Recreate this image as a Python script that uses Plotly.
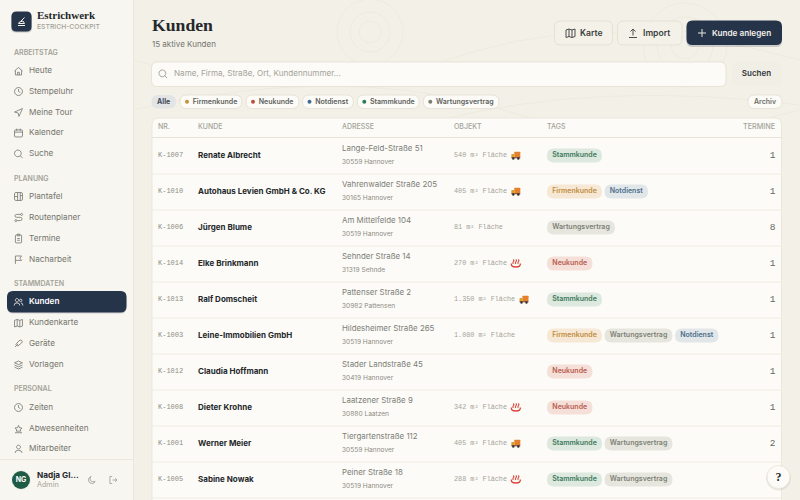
import re
import plotly.graph_objects as go

# Tabelle
nummern = ["K-1007", "K-1010", "K-1006", "K-1014", "K-1013", "K-1003", "K-1012", "K-1008", "K-1001", "K-1005"]
kunden = ["Renate Albrecht", "Autohaus Levien GmbH & Co. KG", "Jürgen Blume", "Elke Brinkmann", "Ralf Domscheit",
          "Leine-Immobilien GmbH", "Claudia Hoffmann", "Dieter Krohne", "Werner Meier", "Sabine Nowak"]
strassen = ["Lange-Feld-Straße 51", "Vahrenwalder Straße 205", "Am Mittelfelde 104", "Sehnder Straße 14",
            "Pattenser Straße 2", "Hildesheimer Straße 265", "Stader Landstraße 45", "Laatzener Straße 9",
            "Tiergartenstraße 112", "Peiner Straße 18"]
orte = ["30559 Hannover", "30165 Hannover", "30519 Hannover", "31319 Sehnde", "30982 Pattensen",
        "30519 Hannover", "30419 Hannover", "30880 Laatzen", "30559 Hannover", "30519 Hannover"]
objekte = ["540 m² Fläche", "405 m² Fläche", "81 m² Fläche", "270 m² Fläche", "1.350 m² Fläche",
           "1.080 m² Fläche", "", "342 m² Fläche", "405 m² Fläche", "288 m² Fläche"]
objekt_art = ["truck", "truck", "", "hot", "truck", "", "", "hot", "truck", "hot"]
tags = [["Stammkunde"], ["Firmenkunde", "Notdienst"], ["Wartungsvertrag"], ["Neukunde"], ["Stammkunde"],
        ["Firmenkunde", "Wartungsvertrag", "Notdienst"], ["Neukunde"], ["Neukunde"],
        ["Stammkunde", "Wartungsvertrag"], ["Stammkunde", "Wartungsvertrag"]]
termine = ["1", "1", "8", "1", "1", "1", "1", "1", "2", ""]
spalten = ["NR.", "KUNDE", "ADRESSE", "OBJEKT", "TAGS"]

# Navigation
nav_gruppen = ["ARBEITSTAG", "PLANUNG", "STAMMDATEN", "PERSONAL"]
nav_texte = ["Heute", "Stempeluhr", "Meine Tour", "Kalender", "Suche", "Plantafel", "Routenplaner", "Termine",
             "Nacharbeit", "Kunden", "Kundenkarte", "Geräte", "Vorlagen", "Zeiten", "Abwesenheiten", "Mitarbeiter"]
filter_texte = ["Firmenkunde", "Neukunde", "Notdienst", "Stammkunde", "Wartungsvertrag"]

SANS = "Inter"
SERIF = "Liberation Serif"
MONO = "Liberation Mono"
DARK = "#26344a"
INK = "#24282b"
GREY = "#74756e"
LIGHT = "#a3a399"
LINE = "#ebe7dc"
CARD = "#fcfbf7"

TAG_STIL = {
    "Stammkunde": ("#dde8df", "#3c7a5c", 55),
    "Firmenkunde": ("#f6e8d4", "#c18c42", 55),
    "Notdienst": ("#e1e6e8", "#4d6e8c", 43.5),
    "Wartungsvertrag": ("#e6e6df", "#7c8175", 68),
    "Neukunde": ("#f5dfd9", "#b65c4e", 45.5),
}
DOT = {"Firmenkunde": "#c8923c", "Neukunde": "#b8503f", "Notdienst": "#3f6c96",
       "Stammkunde": "#2f7a57", "Wartungsvertrag": "#7a8072"}

shapes = []
fig = go.Figure()


def rr(x0, y0, x1, y1, r):
    return (f"M{x0+r} {y0} L{x1-r} {y0} Q{x1} {y0} {x1} {y0+r} L{x1} {y1-r} Q{x1} {y1} {x1-r} {y1} "
            f"L{x0+r} {y1} Q{x0} {y1} {x0} {y1-r} L{x0} {y0+r} Q{x0} {y0} {x0+r} {y0} Z")


def box(x0, y0, x1, y1, r, fill, line=None, lw=1):
    shapes.append(dict(type="path", path=rr(x0, y0, x1, y1, r), fillcolor=fill, layer="below",
                       line=dict(color=line or "rgba(0,0,0,0)", width=lw if line else 0)))


def ring(cx, cy, r, fill="rgba(0,0,0,0)", line=None, lw=1):
    shapes.append(dict(type="circle", x0=cx-r, x1=cx+r, y0=cy-r, y1=cy+r, fillcolor=fill, layer="below",
                       line=dict(color=line or "rgba(0,0,0,0)", width=lw if line else 0)))


def hline(x0, x1, y, color=LINE):
    shapes.append(dict(type="line", x0=x0, x1=x1, y0=y, y1=y, layer="below", line=dict(color=color, width=1)))


def text(xs, ys, labels, size, color, weight=400, family=SANS, pos="middle right"):
    # leicht nach unten, die Mitte von plotly sitzt etwas zu hoch
    fig.add_trace(go.Scatter(x=xs, y=[y + 0.5 for y in ys], text=labels, mode="text", textposition=pos,
                             cliponaxis=False,
                             textfont=dict(size=size, color=color, weight=weight, family=family),
                             hoverinfo="skip", showlegend=False))


def kreis(cx, cy, r):
    k = r * 0.55
    return (f"M{cx+r} {cy} C{cx+r} {cy+k} {cx+k} {cy+r} {cx} {cy+r} C{cx-k} {cy+r} {cx-r} {cy+k} {cx-r} {cy} "
            f"C{cx-r} {cy-k} {cx-k} {cy-r} {cx} {cy-r} C{cx+k} {cy-r} {cx+r} {cy-k} {cx+r} {cy} Z ")


ICONS = {
    "home": "M1.5 6 L6 2 L10.5 6 M2.5 5.3 L2.5 10.5 L9.5 10.5 L9.5 5.3 M5 10.5 L5 7.5 L7 7.5 L7 10.5",
    "clock": kreis(6, 6, 4.5) + "M6 3.2 L6 6 L8 7.2",
    "send": "M10.5 1.5 L1.5 5.5 L5.5 6.5 L6.5 10.5 Z",
    "cal": rr(1.5, 2.5, 10.5, 10.5, 1) + " M1.5 5 L10.5 5 M4 1 L4 3.5 M8 1 L8 3.5",
    "search": kreis(5.3, 5.3, 3.8) + "M8 8 L10.5 10.5",
    "board": rr(1.5, 1.5, 10.5, 10.5, 1.5) + " M5 1.5 L5 10.5 M8 1.5 L8 10.5 M1.5 6 L5 6 M8 5 L10.5 5",
    "route": kreis(3, 9.5, 1.2) + kreis(9.5, 2.5, 1.2) + "M4.5 9.5 L8 9.5 Q10 9.5 10 7.5 Q10 5.8 8 5.8 L4 5.8 Q2 5.8 2 4 Q2 2.5 4 2.5 L8 2.5",
    "clip": rr(2.5, 2, 9.5, 11, 1) + " " + rr(4.5, 1, 7.5, 3, 0.5) + " M4.5 6 L7.5 6 M4.5 8 L7.5 8",
    "flag": "M2.5 11 L2.5 2 L9.5 2 L7.5 4.5 L9.5 7 L2.5 7",
    "users": kreis(4.3, 4, 1.9) + "M1 10 Q1 7 4.3 7 Q7.5 7 7.5 10 " + kreis(8.5, 4.2, 1.4) + "M8.8 7 Q11 7.2 11 10",
    "map": "M1.5 3 L4.5 2 L7.5 3 L10.5 2 L10.5 9.5 L7.5 10.5 L4.5 9.5 L1.5 10.5 Z M4.5 2 L4.5 9.5 M7.5 3 L7.5 10.5",
    "tool": "M2 10 L5.5 6.5 M3 7 L5 9 L9.5 5.5 Q11 4 9.5 2.5 Q8 1.5 6.5 3 Z",
    "layers": "M6 1.5 L10.5 3.5 L6 5.5 L1.5 3.5 Z M1.5 6 L6 8 L10.5 6 M1.5 8.5 L6 10.5 L10.5 8.5",
    "star": "M2 10.8 L10 10.8 M6 2.5 L7.2 5.2 L10 5.5 L8 7.5 L8.5 9 L3.5 9 L4 7.5 L2 5.5 L4.8 5.2 Z",
    "user": kreis(6, 3.8, 2.2) + "M2 10.5 Q2 7.5 6 7.5 Q10 7.5 10 10.5",
    "moon": "M9.5 7.5 Q6 9 4 6.5 Q3 4 5 2 Q1.5 3 2 7 Q3 10.5 7 10 Q9 9.5 9.5 7.5 Z",
    "exit": "M5 2 L2.5 2 L2.5 10 L5 10 M5.5 6 L10.5 6 M8.5 4 L10.5 6 L8.5 8",
    "upload": "M2 10.5 L10 10.5 M6 8.5 L6 2 M3.5 4.5 L6 2 L8.5 4.5",
    "plus": "M6 2 L6 10 M2 6 L10 6",
    "logo": "M2.5 10 L9.5 10 M3 8 L9 8 L7.5 5.5 L4 6.5 Z M5 6 L9 2",
}


def icon(name, cx, cy, color=GREY, s=0.88, lw=0.8, fill="rgba(0,0,0,0)"):
    teile = re.findall(r"[MLQCZ]|-?\d+\.?\d*", ICONS[name])
    out, achse = [], 0
    for t in teile:
        if t.isalpha():
            out.append(t)
            achse = 0
        else:
            v = float(t) - 6
            out.append(f"{(cx if achse == 0 else cy) + v * s:.2f}")
            achse = 1 - achse
    shapes.append(dict(type="path", path=" ".join(out), fillcolor=fill, layer="below",
                       line=dict(color=color, width=lw)))


# Hintergrund
box(0, 0, 800, 500, 0, "#f3f0e8")
for cx, cy, radien in [(370, 32, (11, 20, 33)), (685, 45, (14, 28, 42))]:
    for r in radien:
        ring(cx, cy, r, line="#ece8dc", lw=0.8)
for p in ["M133 60 Q300 110 480 50 Q620 10 800 60", "M133 110 Q350 60 520 115 Q660 150 800 110",
          "M440 120 Q600 80 800 105"]:
    shapes.append(dict(type="path", path=p, layer="below", line=dict(color="#ece8dc", width=0.8)))

# Sidebar
box(0, 0, 133, 500, 0, "#f8f6f0")
shapes.append(dict(type="line", x0=133.5, x1=133.5, y0=0, y1=500, layer="below", line=dict(color=LINE, width=1)))
box(11, 12.5, 32, 32.5, 5, "rgba(38,52,74,0.25)")
box(11.5, 11.5, 31.5, 31.5, 5, DARK)
icon("logo", 21.5, 21.5, "#f3f0e8", s=1.0, lw=1)
text([37], [16], ["Estrichwerk"], 11, INK, 700, SERIF)
text([37], [26.5], ["ESTRICH-COCKPIT"], 6.8, LIGHT, 500)

text([14] * 4, [52.5, 178.5, 284, 389], nav_gruppen, 7, LIGHT, 600)
nav_y = [70.5, 91, 112, 132.5, 153.5, 196, 217, 238, 259, 301.5, 322.5, 343, 364.5, 407, 428, 448.5]
nav_icons = ["home", "clock", "send", "cal", "search", "board", "route", "clip", "flag", "users", "map", "tool",
             "layers", "clock", "star", "user"]
box(7, 291, 126.5, 313.5, 6, "rgba(38,52,74,0.18)")
box(7, 291, 126.5, 312.5, 6, DARK)
for y, ic, name in zip(nav_y, nav_icons, nav_texte):
    icon(ic, 18.5, y + 0.5, "#f3f0e8" if name == "Kunden" else GREY)
inaktiv = [i for i, n in enumerate(nav_texte) if n != "Kunden"]
text([29] * len(inaktiv), [nav_y[i] for i in inaktiv], [nav_texte[i] for i in inaktiv], 8.2, GREY)
text([29], [nav_y[nav_texte.index("Kunden")]], ["Kunden"], 8.2, "#ffffff", 600)

hline(0, 133, 459.5)
ring(21, 480, 10, fill="#eef0e8")
ring(21, 480, 9, fill="#1f5c46")
text([21], [480], ["NG"], 7, "#ffffff", 700, pos="middle center")
text([37], [475.5], ["Nadja Gl..."], 8.2, INK, 700)
text([37], [485], ["Admin"], 7.2, LIGHT)
icon("moon", 92, 480, "#9b9b92")
icon("exit", 113, 480, "#9b9b92")

# Kopf
text([152], [26], ["Kunden"], 17.7, INK, 700, SERIF)
text([152], [44], ["15 aktive Kunden"], 8, GREY)
box(554.5, 21, 612.5, 45, 6, "#f4f1e9", "#e6e1d3")
box(617.5, 21, 682, 45, 6, "#f4f1e9", "#e6e1d3")
box(686.5, 22, 782, 47, 6, "rgba(38,52,74,0.2)")
box(686.5, 20.5, 782, 45, 6, DARK)
icon("map", 570.5, 33, "#4a4d4c", s=1.0, lw=1)
icon("upload", 633, 33, "#4a4d4c", s=1.0, lw=1)
icon("plus", 702, 33, "#e8e6df", s=1.0, lw=1)
text([580], [33], ["Karte"], 8.6, "#3b3f40", 600)
text([643], [33], ["Import"], 8.6, "#3b3f40", 600)
text([712], [33], ["Kunde anlegen"], 8.2, "#f3f0e8", 600)

# Suche
box(151.5, 62, 726, 86.5, 6, CARD, "#e8e3d6")
icon("search", 163, 74, "#8f8f86", s=0.9)
text([174], [73.5], ["Name, Firma, Straße, Ort, Kundennummer..."], 8.1, LIGHT)
box(732, 62, 782, 86, 6, "#f1eee6")
text([756.5], [73.5], ["Suchen"], 8, "#33373a", 600, pos="middle center")

# Filter
box(151.5, 95, 176, 108.5, 6.7, "#e2e4e6")
text([163.7], [101.7], ["Alle"], 7, "#3f4a55", 700, pos="middle center")
chip_x = [(180, 241.7), (246, 299), (302.5, 353.3), (357.3, 419.3), (423.3, 499)]
for (x0, x1), name in zip(chip_x, filter_texte):
    box(x0, 95, x1, 108.5, 6.7, CARD, "#e8e3d6")
    ring(x0 + 7, 101.8, 2, fill=DOT[name])
    text([x0 + 12.7], [101.7], [name], 7, "#5c5f5d", 600)
box(748, 95, 782, 108.5, 6.7, CARD, "#e8e3d6")
text([765], [101.7], ["Archiv"], 7, "#6f7069", 600, pos="middle center")

# Tabelle
box(152, 118, 781.5, 520, 7, CARD, LINE)
hline(152, 781.5, 137.5, "#e8e3d7")
kopf_x = [158, 198, 342, 454, 547]
text(kopf_x, [127] * 5, spalten, 7, LIGHT, 500)
text([775], [127], ["TERMINE"], 7.2, LIGHT, 500, pos="middle left")

reihen = [155.5 + 36 * i for i in range(len(nummern))]
for y in reihen:
    hline(152, 781.5, y + 18.5, "#f0ece3")
text([158] * 10, [y - 0.5 for y in reihen], nummern, 7, "#8c8c84", family=MONO)
text([198] * 10, [y - 0.5 for y in reihen], kunden, 8, INK, 700)
text([342] * 10, [y - 6.5 for y in reihen], strassen, 7.9, "#7d7e77")
text([342] * 10, [y + 6 for y in reihen], orte, 6.6, "#8c8c84")
text([454] * 10, [y - 0.5 for y in reihen], objekte, 6.8, LIGHT, family=MONO)
text([775.5] * 10, [y - 0.5 for y in reihen], termine, 9.5, "#66675f", family=MONO, pos="middle left")

for y, objekt, art, reihe in zip(reihen, objekte, objekt_art, tags):
    ix = 454 + len(objekt) * 4.1 + 4
    if art == "truck":
        box(ix + 3, y - 3.8, ix + 9, y + 2, 0.6, "#e5802f")
        box(ix, y - 1.5, ix + 3.2, y + 2, 0.8, "#d9a02f")
        box(ix, y + 1.7, ix + 9, y + 2.8, 0.3, "#7a3b22")
        ring(ix + 2, y + 3, 1.2, fill="#33302e")
        ring(ix + 7, y + 3, 1.2, fill="#33302e")
    elif art == "hot":
        for dx in (2, 4.5, 7):
            shapes.append(dict(type="path", layer="below", line=dict(color="#d9463c", width=1.1),
                               path=f"M{ix+dx} {y-4} Q{ix+dx+1.2} {y-2.8} {ix+dx} {y-1.6} Q{ix+dx-1} {y-0.6} {ix+dx} {y+0.5}"))
        shapes.append(dict(type="path", layer="below", line=dict(color="#d9463c", width=1.3),
                           path=f"M{ix} {y} Q{ix-0.5} {y+3.5} {ix+4.5} {y+3.5} Q{ix+9.5} {y+3.5} {ix+9} {y}"))
    x = 547
    for t in reihe:
        fill, farbe, breite = TAG_STIL[t]
        box(x, y - 7, x + breite, y + 7, 7, fill)
        text([x + breite / 2], [y - 0.5], [t], 7, farbe, 600, pos="middle center")
        x += breite + 2.5

# Hilfe
ring(778.5, 478, 12.5, fill="rgba(60,60,50,0.10)")
ring(778.5, 477, 11.5, fill=CARD, line="#e8e3d6", lw=0.8)
text([778.5], [477], ["?"], 12, INK, 700, SERIF, pos="middle center")

fig.update_layout(
    width=800,
    height=500,
    margin=dict(l=0, r=0, t=0, b=0),
    plot_bgcolor="#f3f0e8",
    paper_bgcolor="#f3f0e8",
    showlegend=False,
    shapes=shapes,
    xaxis=dict(range=[0, 800], visible=False, fixedrange=True),
    yaxis=dict(range=[500, 0], visible=False, fixedrange=True),
)

fig.write_html("out.html", config={"displayModeBar": False},
               post_script="document.body.style.margin='0';document.body.style.overflow='hidden';")
